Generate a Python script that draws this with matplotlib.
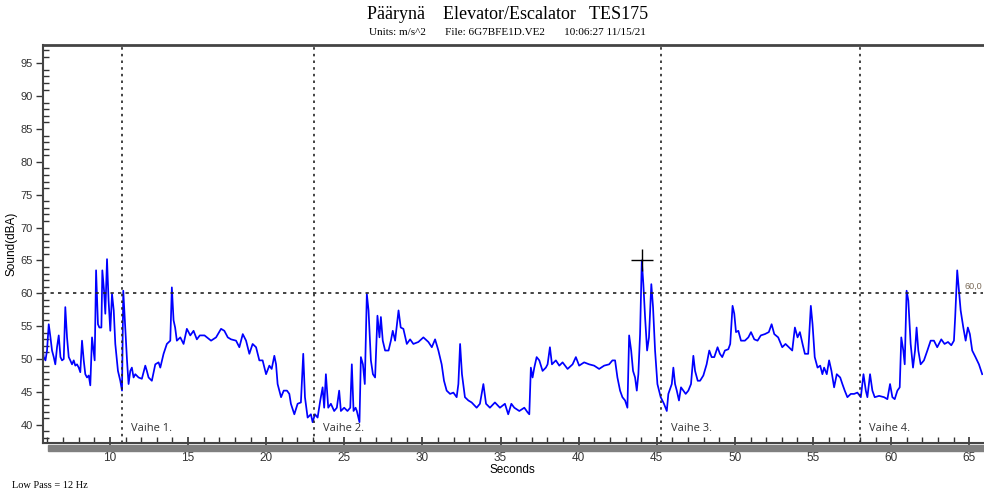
import numpy as np
import matplotlib
matplotlib.use("Agg")
import matplotlib.pyplot as plt
from matplotlib.patches import Rectangle
from matplotlib.ticker import MultipleLocator

# sound level trace (seconds, dBA)
t = [5.65, 5.76, 5.87, 5.97, 6.08, 6.19, 6.29, 6.4, 6.5, 6.61, 6.72, 6.83, 6.93, 7.04, 7.14, 7.25,
     7.36, 7.46, 7.57, 7.68, 7.78, 7.89, 8.0, 8.1, 8.21, 8.32, 8.42, 8.53, 8.64, 8.74, 8.85, 8.95,
     9.02, 9.11, 9.23, 9.32, 9.45, 9.51, 9.62, 9.7, 9.81, 9.91, 10.02, 10.13, 10.24, 10.34, 10.51,
     10.66, 10.77, 10.85, 10.98, 11.09, 11.19, 11.3, 11.4, 11.51, 11.62, 11.83, 12.04, 12.26, 12.36,
     12.47, 12.68, 12.9, 13.11, 13.22, 13.43, 13.64, 13.86, 13.96, 14.07, 14.17, 14.28, 14.5, 14.71,
     14.92, 15.14, 15.35, 15.56, 15.75,
     16.05, 16.47, 16.79, 17.11, 17.32, 17.54, 17.75, 18.07, 18.28, 18.5, 18.71, 18.92, 19.13, 19.35,
     19.56, 19.77, 19.99, 20.2, 20.35, 20.52, 20.63, 20.73, 20.95, 21.12, 21.33, 21.48, 21.58, 21.8,
     22.01, 22.22, 22.37, 22.48, 22.65, 22.86, 22.97, 23.12, 23.29, 23.46, 23.61, 23.71, 23.82, 23.97,
     24.14, 24.35, 24.52, 24.67, 24.78, 24.99, 25.2, 25.38, 25.48, 25.59, 25.72,
     25.8, 25.97, 26.06, 26.19, 26.31, 26.44, 26.55, 26.7, 26.83, 26.97, 27.12, 27.25, 27.34, 27.46,
     27.61, 27.83, 27.98, 28.1, 28.25, 28.47, 28.61, 28.78, 29.0, 29.21, 29.42, 29.74, 30.06, 30.38,
     30.6, 30.81, 31.02, 31.23, 31.38, 31.55, 31.77, 31.98, 32.19, 32.3, 32.41, 32.53, 32.72, 32.94,
     33.15, 33.47, 33.68, 33.9, 34.07, 34.32, 34.64, 34.96, 35.28, 35.49, 35.69,
     35.88, 36.2, 36.52, 36.73, 36.84, 36.94, 37.05, 37.16, 37.31, 37.48, 37.69, 37.9, 38.01, 38.16,
     38.29, 38.54, 38.76, 38.97, 39.29, 39.61, 39.82, 40.03, 40.35, 40.67, 40.99, 41.31, 41.63, 41.95,
     42.16, 42.33, 42.48, 42.65, 42.8, 42.97, 43.12, 43.23, 43.36, 43.48, 43.61, 43.72, 43.82, 43.93,
     44.04, 44.14, 44.25, 44.38, 44.5, 44.65, 44.76, 44.89, 45.04, 45.25, 45.46, 45.64,
     45.74, 45.96, 46.06, 46.17, 46.28, 46.42, 46.55, 46.7, 46.85, 47.02, 47.19, 47.34, 47.45, 47.62,
     47.77, 47.98, 48.19, 48.36, 48.51, 48.68, 48.89, 49.04, 49.19, 49.36, 49.58, 49.7, 49.85, 49.96,
     50.07, 50.22, 50.39, 50.64, 50.86, 51.03, 51.24, 51.45, 51.66, 51.92, 52.17, 52.35, 52.52, 52.77,
     53.03, 53.24, 53.45, 53.67, 53.84, 54.01, 54.16, 54.33, 54.48, 54.69, 54.86, 54.97, 55.11, 55.29,
     55.46, 55.6,
     55.71, 55.88, 56.03, 56.18, 56.35, 56.52, 56.74, 56.88, 57.03, 57.2, 57.42, 57.63, 57.84, 58.06,
     58.23, 58.38, 58.48, 58.65, 58.8, 58.95, 59.23, 59.55, 59.76, 59.93, 60.08, 60.23, 60.4, 60.55,
     60.65, 60.78, 60.87, 60.99, 61.1, 61.25, 61.4, 61.53, 61.63, 61.74, 61.89, 62.1, 62.32, 62.53,
     62.74, 62.95, 63.21, 63.42, 63.64, 63.85, 64.02, 64.1, 64.23, 64.34, 64.45, 64.62, 64.77, 64.91,
     65.04, 65.19, 65.4, 65.62, 65.83]
db = [52.3, 50.3, 49.8, 51.3, 55.3, 53.3, 51.3, 50.3, 49.2, 51.8, 53.6, 50.3, 49.8, 50.0, 57.9, 53.3,
      50.3, 49.8, 49.2, 49.8, 49.0, 49.2, 48.7, 48.0, 52.8, 49.8, 47.7, 47.2, 47.5, 46.0, 53.3, 51.3,
      49.8, 63.5, 55.3, 54.8, 54.8, 63.5, 60.4, 56.9, 65.2, 58.9, 54.3, 59.9, 57.4, 52.3, 48.2,
      46.7, 45.2, 60.4, 54.8, 49.8, 46.2, 48.2, 48.7, 47.2, 47.7, 47.2, 47.0, 49.0, 48.2,
      47.2, 46.7, 49.2, 49.5, 48.7, 50.8, 52.3, 52.8, 60.9, 55.9, 54.8, 52.8, 53.3, 52.3,
      54.6, 53.6, 54.3, 53.0, 53.6,
      53.6, 52.8, 53.3, 54.6, 54.3, 53.3, 53.0, 52.8, 51.8, 53.8, 52.8, 50.8, 52.3, 51.8,
      49.8, 49.8, 47.7, 49.0, 48.5, 50.5, 49.2, 46.2, 44.2, 45.2, 45.2, 44.7, 43.2, 41.6,
      43.2, 43.4, 50.8, 44.2, 41.1, 41.6, 40.4, 41.6, 41.1, 43.7, 45.7, 42.6, 47.7, 42.6,
      43.2, 42.1, 42.6, 45.2, 42.1, 42.6, 42.1, 42.6, 49.2, 42.1, 42.6,
      42.1, 40.4, 50.3, 49.2, 46.2, 59.9, 57.4, 49.8, 47.7, 47.2, 56.6, 53.3, 56.4, 52.8,
      51.3, 51.3, 52.8, 54.3, 52.8, 57.4, 54.8, 54.6, 52.3, 53.0, 52.3, 52.6, 53.3, 52.6,
      51.8, 53.0, 51.3, 49.2, 46.7, 45.2, 44.7, 44.9, 44.2, 46.2, 52.3, 47.7, 44.2, 43.7,
      43.4, 42.6, 43.2, 46.2, 43.2, 42.6, 43.4, 42.6, 43.2, 41.6, 43.2,
      42.6, 42.1, 42.6, 41.9, 41.6, 48.7, 47.2, 48.7, 50.3, 49.8, 48.2, 48.7, 49.2, 51.8,
      49.2, 49.8, 49.0, 49.5, 48.5, 49.2, 50.3, 49.0, 49.5, 49.2, 49.0, 48.5, 49.0, 49.2,
      49.8, 49.8, 47.2, 45.2, 44.2, 43.7, 42.6, 53.6, 51.3, 48.2, 47.2, 45.2, 47.7, 53.8,
      65.0, 61.4, 56.4, 51.3, 53.3, 61.4, 57.9, 51.3, 46.2, 44.2, 43.2, 42.1,
      44.7, 46.2, 48.7, 46.2, 45.2, 43.7, 45.7, 45.2, 44.7, 45.2, 46.2, 50.5, 48.2, 46.7,
      46.7, 47.5, 49.2, 51.3, 50.3, 50.3, 51.8, 50.8, 50.3, 51.3, 51.5, 52.3, 58.1, 56.9,
      54.1, 54.3, 52.8, 52.8, 53.3, 54.1, 53.0, 52.8, 53.6, 53.8, 54.1, 55.3, 53.8, 53.3,
      51.8, 52.3, 51.8, 51.3, 54.8, 53.3, 54.1, 52.3, 50.8, 50.8, 58.1, 55.3, 50.3, 48.7,
      49.0, 47.7,
      48.7, 47.7, 49.8, 48.2, 45.7, 47.7, 47.2, 46.2, 45.2, 44.2, 44.7, 44.7, 44.9, 44.2,
      47.7, 45.2, 44.2, 47.7, 45.2, 44.2, 44.4, 44.2, 43.9, 46.2, 44.2, 43.9, 45.2, 45.7,
      53.3, 51.3, 49.2, 60.4, 58.9, 52.3, 48.7, 51.3, 54.8, 51.3, 49.2, 49.8, 51.3, 52.8,
      52.8, 51.8, 53.0, 52.3, 52.6, 52.1, 52.8, 56.4, 63.5, 60.4, 57.4, 54.8, 52.8, 54.8,
      53.8, 51.3, 50.3, 49.2, 47.7]

phase_x = [10.77, 23.05, 45.29, 58.0]
phase_labels = ["Vaihe 1.", "Vaihe 2.", "Vaihe 3.", "Vaihe 4."]
limit_db = 60.0
cursor = (44.04, 65.0)

fig = plt.figure(figsize=(9.84, 4.93), dpi=100)
ax = fig.add_axes([0.0435, 0.101, 0.955, 0.808])

ax.plot(t, db, color="#0000ff", lw=1.25)
ax.set_xlim(5.7, 65.85)
ax.set_ylim(37.2, 97.8)

# phase markers and limit line
for x, lab in zip(phase_x, phase_labels):
    ax.axvline(x, color="#222222", ls=(0, (1.5, 2.5)), lw=1.2)
    ax.text(x + 0.6, 39.4, lab, fontsize=8, color="#333333", va="center",
            family="Open Sans")
ax.axhline(limit_db, color="#222222", ls=(0, (2, 2.5)), lw=1.2)
ax.text(65.8, limit_db + 0.4, "60,0", fontsize=6.5, color="#7a6a58", ha="right",
        va="bottom", family="Liberation Sans")
ax.plot(*cursor, marker="+", color="black", ms=16, mew=1.0)

# axes styling
ax.xaxis.set_major_locator(MultipleLocator(5))
ax.xaxis.set_minor_locator(MultipleLocator(1))
ax.yaxis.set_major_locator(MultipleLocator(5))
ax.yaxis.set_minor_locator(MultipleLocator(1))
ax.tick_params(axis="x", which="major", direction="inout", length=9, width=1.2,
               labelsize=8.5, pad=2, colors="#333333")
ax.tick_params(axis="x", which="minor", direction="in", length=4, width=1, colors="#333333")
ax.tick_params(axis="y", which="major", direction="out", length=5, width=1,
               labelsize=8, pad=2, colors="#333333")
ax.tick_params(axis="y", which="minor", direction="in", length=4, width=1, colors="#333333")
for lbl in ax.get_xticklabels() + ax.get_yticklabels():
    lbl.set_family("Liberation Sans")
ax.spines["right"].set_visible(False)
ax.spines["top"].set_linewidth(2)
ax.spines["left"].set_linewidth(1.5)
ax.spines["bottom"].set_linewidth(1.5)
for s in ax.spines.values():
    s.set_color("#444444")

ax.set_xlabel("Seconds", fontsize=8.5, family="Liberation Sans", labelpad=0)
ax.set_ylabel("Sound(dBA)", fontsize=8.5, family="Liberation Sans")
ax.yaxis.set_label_coords(-0.027, 0.5)

# grey shadow band under the x axis
fig.patches.append(Rectangle((0.049, 0.086), 0.951, 0.012, transform=fig.transFigure,
                             color="#808080", zorder=0))

fig.text(0.516, 0.97, "Päärynä    Elevator/Escalator   TES175", ha="center", va="center",
         fontsize=13, family="Liberation Serif")
fig.text(0.516, 0.935, "Units: m/s^2       File: 6G7BFE1D.VE2       10:06:27 11/15/21",
         ha="center", va="center", fontsize=8, family="Liberation Serif")
fig.text(0.012, 0.016, "Low Pass = 12 Hz", ha="left", va="center", fontsize=7.5,
         family="Liberation Serif")

fig.savefig("out.png", dpi=100)
